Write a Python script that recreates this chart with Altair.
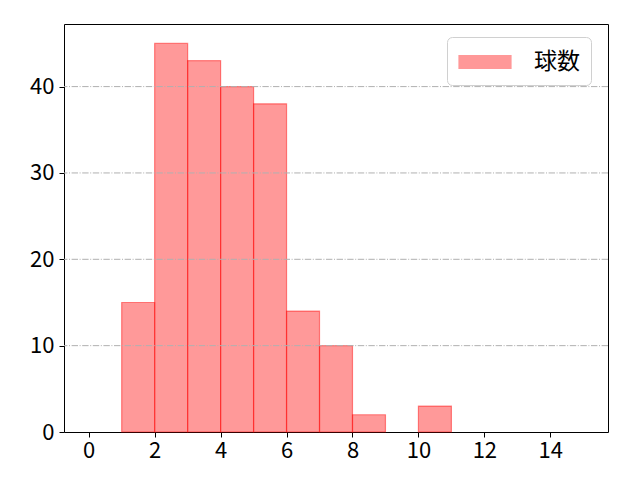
import altair as alt
import pandas as pd

bin_start = [0, 1, 2, 3, 4, 5, 6, 7, 8, 9, 10, 11, 12, 13, 14]
counts = [0, 15, 45, 43, 40, 38, 14, 10, 2, 0, 3, 0, 0, 0, 0]
series_name = "球数"

df = pd.DataFrame({
    "start": bin_start,
    "end": [b + 1 for b in bin_start],
    "count": counts,
    "series": [series_name] * len(bin_start),
})

FONT = "Noto Sans CJK JP"

x_scale = alt.Scale(domain=[-0.75, 15.75], nice=False, zero=False)
y_scale = alt.Scale(domain=[0, 47.25], nice=False)

bars = alt.Chart(df).transform_filter(
    alt.datum.count > 0
).mark_rect(
    fillOpacity=0.4, strokeOpacity=0.45, strokeWidth=1.2
).encode(
    x=alt.X("start:Q", scale=x_scale,
            axis=alt.Axis(values=[0, 2, 4, 6, 8, 10, 12, 14], title=None, grid=False,
                          labelFontSize=22, labelFont=FONT, labelColor="black",
                          tickColor="black", tickSize=5, labelPadding=3,
                          domain=False, labelFlush=False)),
    x2="end:Q",
    y=alt.Y("count:Q", scale=y_scale,
            axis=alt.Axis(values=[0, 10, 20, 30, 40], title=None, grid=False,
                          labelFontSize=22, labelFont=FONT, labelColor="black",
                          tickColor="black", tickSize=5, labelPadding=5,
                          domain=False)),
    y2=alt.datum(0),
    color=alt.Color("series:N",
                    scale=alt.Scale(range=["red"]),
                    legend=alt.Legend(
                        title=None, orient="none", legendX=383, legendY=13,
                        labelFont=FONT, labelFontSize=23, labelColor="black",
                        symbolType="M-1,-0.5L3,-0.5L3,0.5L-1,0.5Z",
                        symbolSize=676, symbolOpacity=0.4,
                        symbolStrokeWidth=1.2,
                        labelOffset=48, padding=11,
                        strokeColor="#d0d0d0", fillColor="white", cornerRadius=5,
                        rowPadding=0)),
    stroke=alt.value("red"),
)

grid_df = pd.DataFrame({"g": [10, 20, 30, 40]})
grid = alt.Chart(grid_df).mark_rule(
    color="#b0b0b0", strokeWidth=1, strokeDash=[6.4, 1.6, 1, 1.6]
).encode(y=alt.Y("g:Q", scale=y_scale))

chart = alt.layer(bars, grid).properties(
    width=544, height=408,
    padding={"left": 56, "top": 16, "right": 24, "bottom": 48},
    autosize=alt.AutoSizeParams(type="none"),
    background="white",
).configure_view(
    stroke="black", strokeWidth=1
)

chart.save("out.html", embed_options={"renderer": "svg", "actions": False})
